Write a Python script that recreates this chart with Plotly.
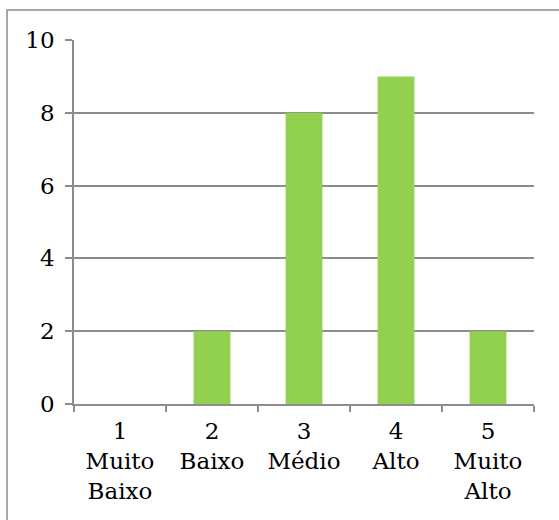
import plotly.graph_objects as go

# Category labels (code + description) and counts per category
codes = ["1", "2", "3", "4", "5"]
descriptions = ["Muito<br>Baixo", "Baixo", "Médio", "Alto", "Muito<br>Alto"]
counts = [0, 2, 8, 9, 2]
y_ticks = [0, 2, 4, 6, 8, 10]

labels = [f"{c}<br>{d}" for c, d in zip(codes, descriptions)]

font_family = "DejaVu Serif"
axis_gray = "#8c8c8c"

fig = go.Figure(
    go.Bar(
        x=labels,
        y=counts,
        marker=dict(color="#92D050", line=dict(width=0)),
    )
)

fig.update_layout(
    width=559,
    height=520,
    margin=dict(l=74, r=25, t=40, b=116),
    paper_bgcolor="white",
    plot_bgcolor="white",
    bargap=0.6,
    showlegend=False,
    font=dict(family=font_family, size=23, color="black"),
)

fig.update_xaxes(
    type="category",
    showline=True,
    linecolor=axis_gray,
    linewidth=1.5,
    ticks="outside",
    ticklen=6,
    tickcolor=axis_gray,
    tickwidth=1.5,
    tickson="boundaries",
    showgrid=False,
    ticklabelstandoff=6,
    tickfont=dict(family=font_family, size=23, color="black"),
)

fig.update_yaxes(
    range=[0, 10],
    tickvals=y_ticks,
    showline=True,
    linecolor=axis_gray,
    linewidth=1.5,
    ticks="outside",
    ticklen=7,
    tickcolor=axis_gray,
    tickwidth=1.5,
    showgrid=True,
    gridcolor=axis_gray,
    gridwidth=1.5,
    zeroline=False,
    ticklabelstandoff=6,
    tickfont=dict(family=font_family, size=23, color="black"),
)

# Chart frame (extends past the right and bottom edges of the page)
fig.add_shape(
    type="rect",
    xref="paper", yref="paper",
    x0=(7 - 74) / 460, x1=1.2,
    y0=-0.6, y1=(404 - 10) / 364,
    line=dict(color=axis_gray, width=1.5),
    fillcolor="rgba(0,0,0,0)",
    layer="below",
)

fig.write_html("out.html")
